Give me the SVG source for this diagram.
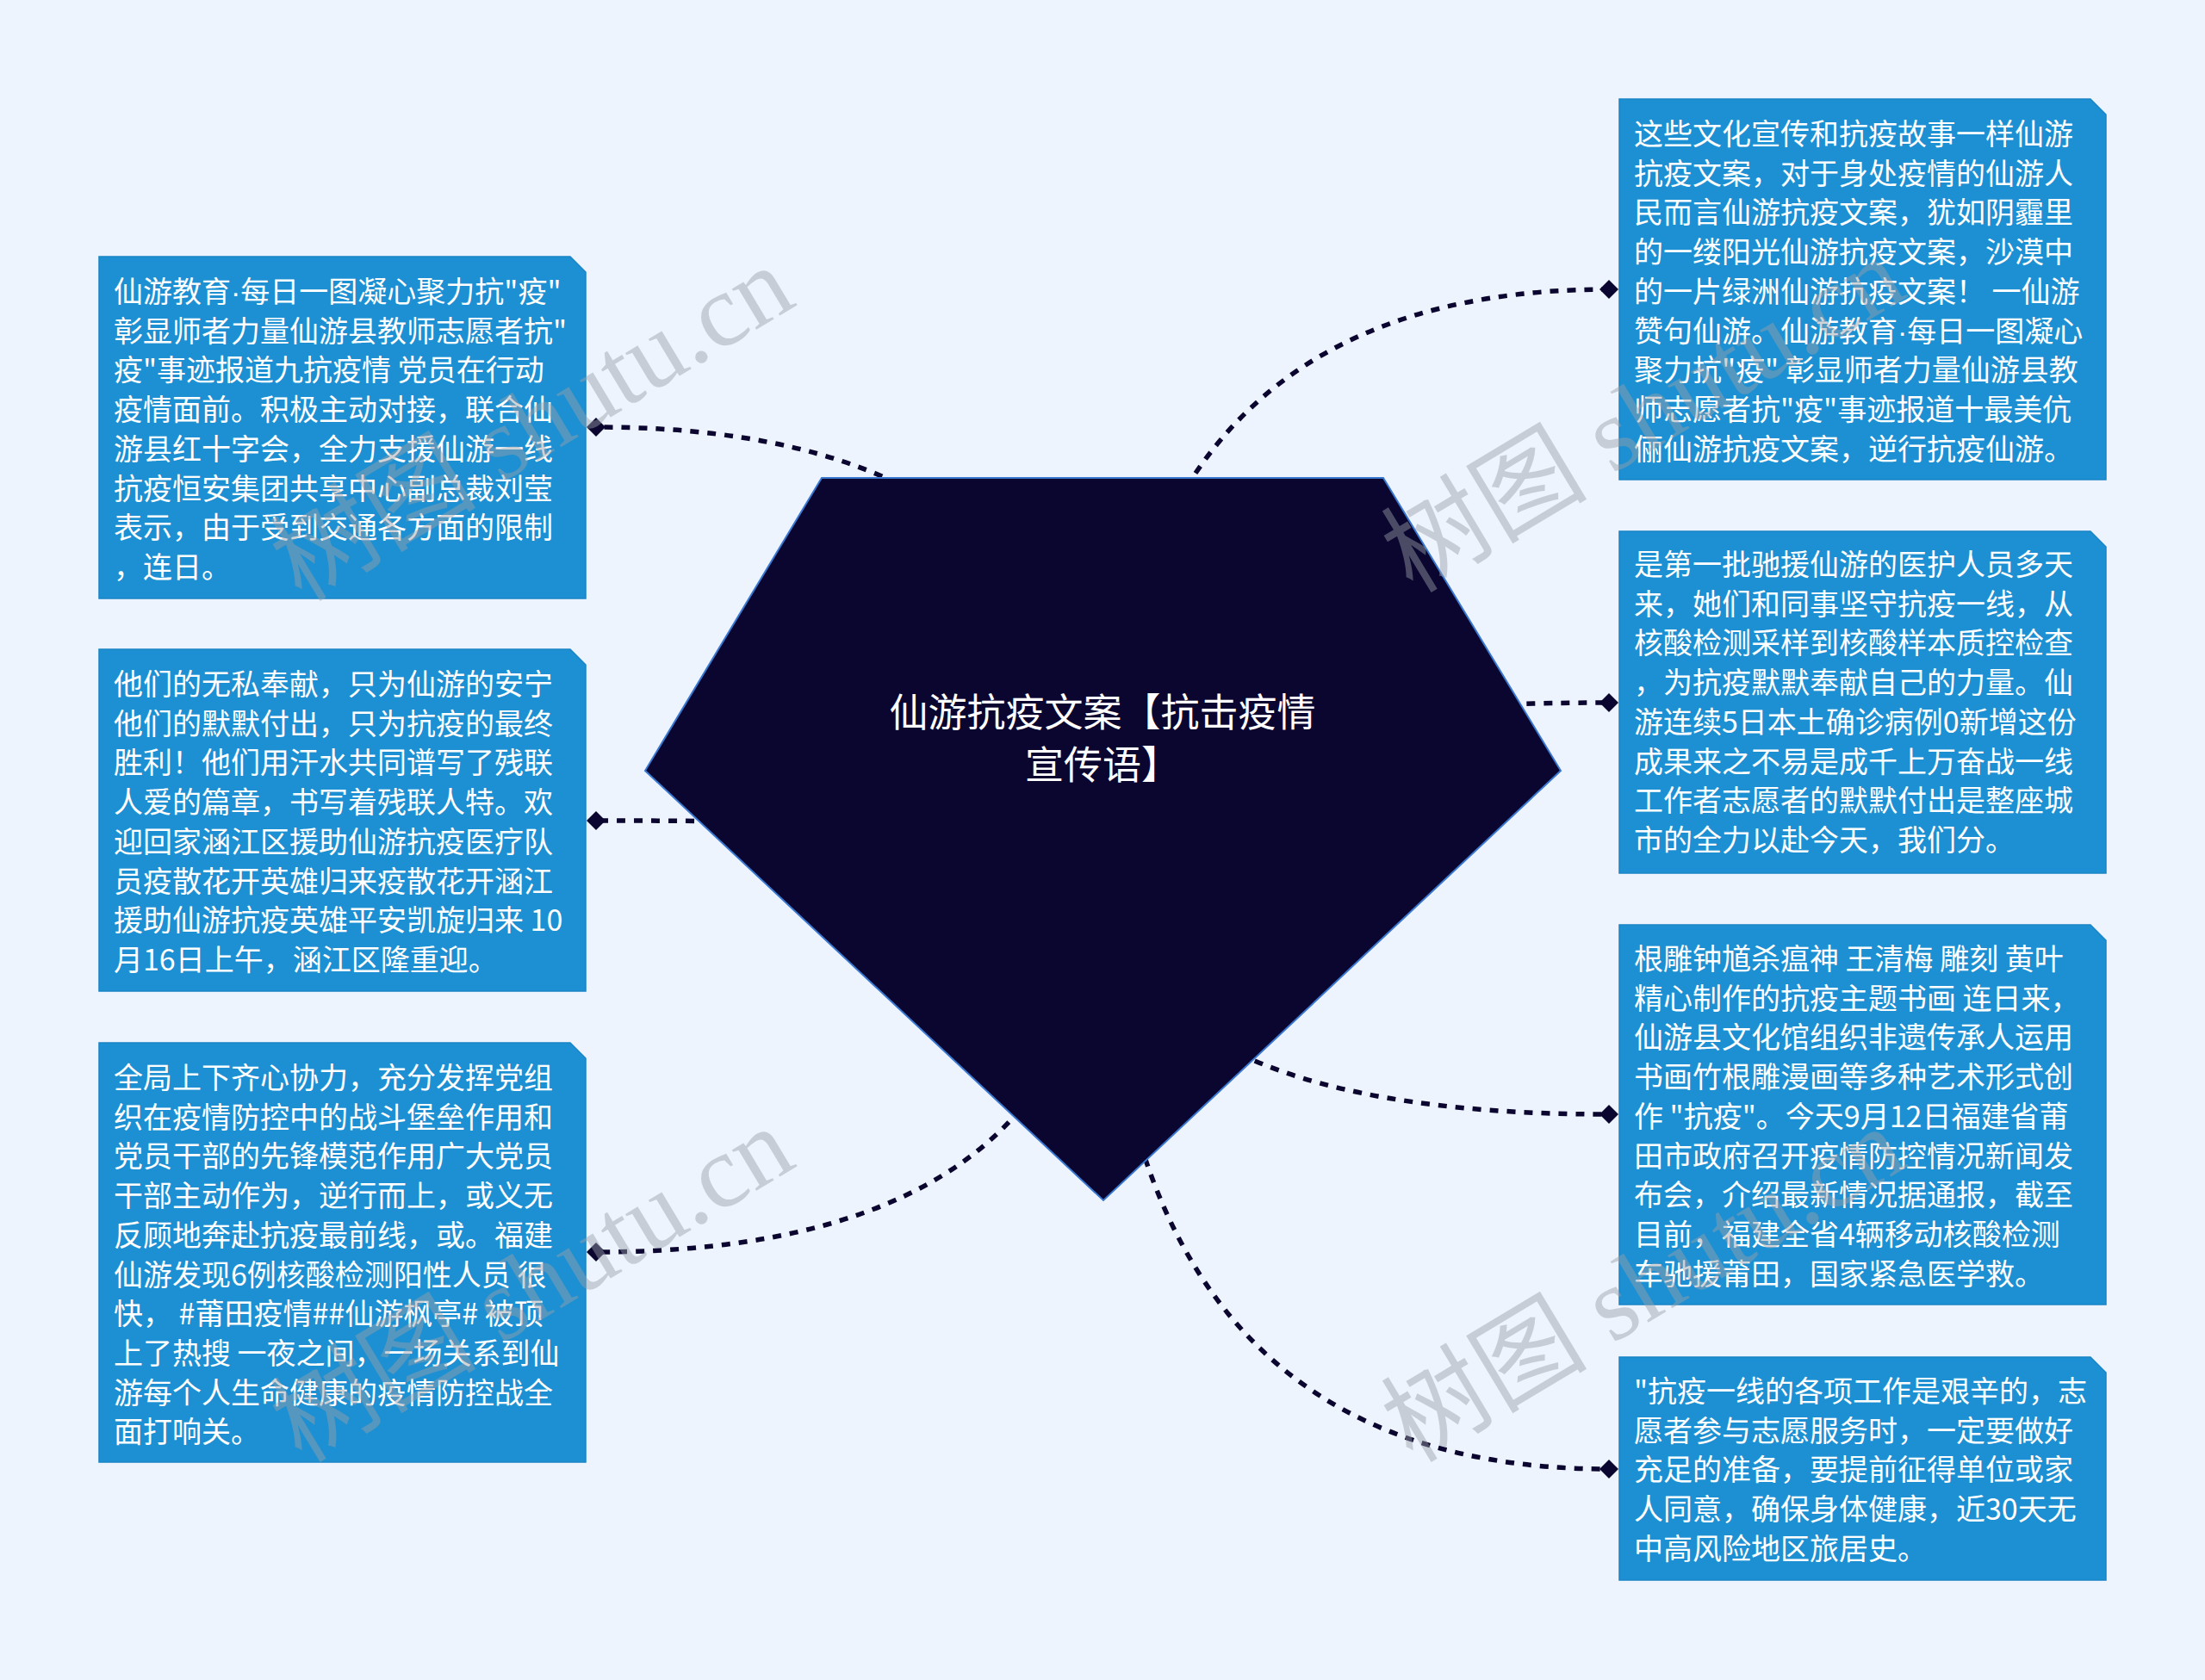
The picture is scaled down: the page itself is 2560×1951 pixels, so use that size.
<svg xmlns="http://www.w3.org/2000/svg" width="2560" height="1951" viewBox="0 0 2560 1951">
<defs>
<style>
.bg{fill:#eef4fd}
.box{fill:#1c90d2;stroke:#1a84c6;stroke-width:1.5}
.bt{fill:#ffffff;font-family:"Noto Sans CJK SC","Noto Sans",sans-serif;font-size:34px}
.dot{font-family:"Liberation Sans",sans-serif}
.ct{fill:#ffffff;font-family:"Noto Sans CJK SC","Noto Sans",sans-serif;font-size:45px;text-anchor:middle}
.conn{fill:none;stroke:#0b0630;stroke-width:5.5;stroke-dasharray:10 10;marker-end:url(#dia)}
.wm{fill:#9aa0a8;opacity:0.45;font-family:"Liberation Serif","Noto Sans CJK SC",serif;font-size:120px}
</style>
<marker id="dia" viewBox="-12 -12 24 24" refX="0" refY="0" markerWidth="24" markerHeight="24" markerUnits="userSpaceOnUse" orient="0">
<path d="M0,-11 L11,0 L0,11 L-11,0 Z" fill="#0b0630"/>
</marker>
</defs>
<rect class="bg" x="0" y="0" width="2560" height="1951"/>

<g id="connectors">
<path class="conn" d="M1280 990 Q1280 496 692 496"/>
<path class="conn" d="M1280 990 Q1280 953 692 953"/>
<path class="conn" d="M1280 990 Q1280 1454 692 1454"/>
<path class="conn" d="M1280 990 Q1280 336 1868 336"/>
<path class="conn" d="M1280 990 Q1280 816 1868 816"/>
<path class="conn" d="M1280 990 Q1280 1294 1868 1294"/>
<path class="conn" d="M1280 990 Q1280 1706 1868 1706"/>
</g>

<g id="center">
<polygon points="954,555 1606,555 1812,895 1281,1394 749,895" fill="#0b0630" stroke="#3a78d0" stroke-width="2"/>
<text class="ct" x="1280" y="844">仙游抗疫文案【抗击疫情</text>
<text class="ct" x="1280" y="905">宣传语】</text>
</g>

<g id="node-l1">
<path class="box" d="M115 298 H662 L680 316 V695 H115 Z"/>
<text class="bt" x="132" y="351">
<tspan x="132" dy="0">仙游教育<tspan class="dot">·</tspan>每日一图凝心聚力抗"疫"</tspan>
<tspan x="132" dy="45.7">彰显师者力量仙游县教师志愿者抗"</tspan>
<tspan x="132" dy="45.7">疫"事迹报道九抗疫情 党员在行动</tspan>
<tspan x="132" dy="45.7">疫情面前。积极主动对接，联合仙</tspan>
<tspan x="132" dy="45.7">游县红十字会，全力支援仙游一线</tspan>
<tspan x="132" dy="45.7">抗疫恒安集团共享中心副总裁刘莹</tspan>
<tspan x="132" dy="45.7">表示，由于受到交通各方面的限制</tspan>
<tspan x="132" dy="45.7">，连日。</tspan>
</text>
</g>

<g id="node-l2">
<path class="box" d="M115 754 H662 L680 772 V1151 H115 Z"/>
<text class="bt" x="132" y="807">
<tspan x="132" dy="0">他们的无私奉献，只为仙游的安宁</tspan>
<tspan x="132" dy="45.7">他们的默默付出，只为抗疫的最终</tspan>
<tspan x="132" dy="45.7">胜利！他们用汗水共同谱写了残联</tspan>
<tspan x="132" dy="45.7">人爱的篇章，书写着残联人特。欢</tspan>
<tspan x="132" dy="45.7">迎回家涵江区援助仙游抗疫医疗队</tspan>
<tspan x="132" dy="45.7">员疫散花开英雄归来疫散花开涵江</tspan>
<tspan x="132" dy="45.7">援助仙游抗疫英雄平安凯旋归来 10</tspan>
<tspan x="132" dy="45.7">月16日上午，涵江区隆重迎。</tspan>
</text>
</g>

<g id="node-l3">
<path class="box" d="M115 1211 H662 L680 1229 V1698 H115 Z"/>
<text class="bt" x="132" y="1264">
<tspan x="132" dy="0">全局上下齐心协力，充分发挥党组</tspan>
<tspan x="132" dy="45.7">织在疫情防控中的战斗堡垒作用和</tspan>
<tspan x="132" dy="45.7">党员干部的先锋模范作用广大党员</tspan>
<tspan x="132" dy="45.7">干部主动作为，逆行而上，或义无</tspan>
<tspan x="132" dy="45.7">反顾地奔赴抗疫最前线，或。福建</tspan>
<tspan x="132" dy="45.7">仙游发现6例核酸检测阳性人员 很</tspan>
<tspan x="132" dy="45.7">快， #莆田疫情##仙游枫亭# 被顶</tspan>
<tspan x="132" dy="45.7">上了热搜 一夜之间，一场关系到仙</tspan>
<tspan x="132" dy="45.7">游每个人生命健康的疫情防控战全</tspan>
<tspan x="132" dy="45.7">面打响关。</tspan>
</text>
</g>

<g id="node-r1">
<path class="box" d="M1880 115 H2427 L2445 133 V557 H1880 Z"/>
<text class="bt" x="1897" y="168">
<tspan x="1897" dy="0">这些文化宣传和抗疫故事一样仙游</tspan>
<tspan x="1897" dy="45.7">抗疫文案，对于身处疫情的仙游人</tspan>
<tspan x="1897" dy="45.7">民而言仙游抗疫文案，犹如阴霾里</tspan>
<tspan x="1897" dy="45.7">的一缕阳光仙游抗疫文案，沙漠中</tspan>
<tspan x="1897" dy="45.7">的一片绿洲仙游抗疫文案！ 一仙游</tspan>
<tspan x="1897" dy="45.7">赞句仙游。仙游教育<tspan class="dot">·</tspan>每日一图凝心</tspan>
<tspan x="1897" dy="45.7">聚力抗"疫" 彰显师者力量仙游县教</tspan>
<tspan x="1897" dy="45.7">师志愿者抗"疫"事迹报道十最美伉</tspan>
<tspan x="1897" dy="45.7">俪仙游抗疫文案，逆行抗疫仙游。</tspan>
</text>
</g>

<g id="node-r2">
<path class="box" d="M1880 617 H2427 L2445 635 V1014 H1880 Z"/>
<text class="bt" x="1897" y="668">
<tspan x="1897" dy="0">是第一批驰援仙游的医护人员多天</tspan>
<tspan x="1897" dy="45.7">来，她们和同事坚守抗疫一线，从</tspan>
<tspan x="1897" dy="45.7">核酸检测采样到核酸样本质控检查</tspan>
<tspan x="1897" dy="45.7">，为抗疫默默奉献自己的力量。仙</tspan>
<tspan x="1897" dy="45.7">游连续5日本土确诊病例0新增这份</tspan>
<tspan x="1897" dy="45.7">成果来之不易是成千上万奋战一线</tspan>
<tspan x="1897" dy="45.7">工作者志愿者的默默付出是整座城</tspan>
<tspan x="1897" dy="45.7">市的全力以赴今天，我们分。</tspan>
</text>
</g>

<g id="node-r3">
<path class="box" d="M1880 1074 H2427 L2445 1092 V1515 H1880 Z"/>
<text class="bt" x="1897" y="1126">
<tspan x="1897" dy="0">根雕钟馗杀瘟神 王清梅 雕刻 黄叶</tspan>
<tspan x="1897" dy="45.7">精心制作的抗疫主题书画 连日来，</tspan>
<tspan x="1897" dy="45.7">仙游县文化馆组织非遗传承人运用</tspan>
<tspan x="1897" dy="45.7">书画竹根雕漫画等多种艺术形式创</tspan>
<tspan x="1897" dy="45.7">作 "抗疫"。今天9月12日福建省莆</tspan>
<tspan x="1897" dy="45.7">田市政府召开疫情防控情况新闻发</tspan>
<tspan x="1897" dy="45.7">布会，介绍最新情况据通报，截至</tspan>
<tspan x="1897" dy="45.7">目前，福建全省4辆移动核酸检测</tspan>
<tspan x="1897" dy="45.7">车驰援莆田，国家紧急医学救。</tspan>
</text>
</g>

<g id="node-r4">
<path class="box" d="M1880 1576 H2427 L2445 1594 V1835 H1880 Z"/>
<text class="bt" x="1897" y="1628">
<tspan x="1897" dy="0">"抗疫一线的各项工作是艰辛的，志</tspan>
<tspan x="1897" dy="45.7">愿者参与志愿服务时，一定要做好</tspan>
<tspan x="1897" dy="45.7">充足的准备，要提前征得单位或家</tspan>
<tspan x="1897" dy="45.7">人同意，确保身体健康，近30天无</tspan>
<tspan x="1897" dy="45.7">中高风险地区旅居史。</tspan>
</text>
</g>

<g id="watermarks">
<text class="wm" transform="translate(350,700) rotate(-31)">树图 shutu.cn</text>
<text class="wm" transform="translate(350,1700) rotate(-31)">树图 shutu.cn</text>
<text class="wm" transform="translate(1640,690) rotate(-31)">树图 shutu.cn</text>
<text class="wm" transform="translate(1640,1700) rotate(-31)">树图 shutu.cn</text>
</g>
</svg>
